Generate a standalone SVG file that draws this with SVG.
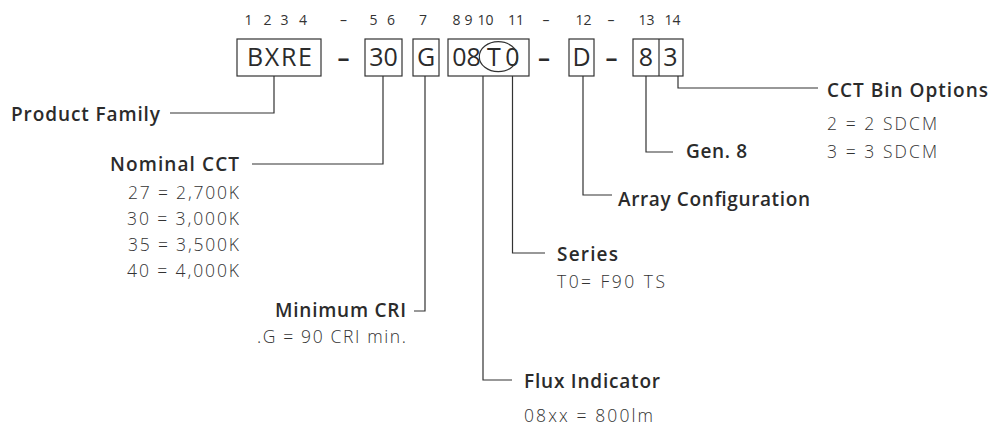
<svg xmlns="http://www.w3.org/2000/svg" width="995" height="426" viewBox="0 0 995 426">
<style>
  .bg{fill:#ffffff}
  .box{fill:none;stroke:#333333;stroke-width:1.2}
  .conn{fill:none;stroke:#333333;stroke-width:1.2}
  .idx{font-family:"Open Sans",Lato,sans-serif;font-size:14px;fill:#333333;text-anchor:middle}
  .code{font-family:"Open Sans",Lato,sans-serif;font-size:25px;font-weight:500;fill:#2b2b2b;text-anchor:middle}
  .dash{font-family:"Open Sans",Lato,sans-serif;font-size:24px;font-weight:bold;fill:#2b2b2b;text-anchor:middle}
  .lbl{font-family:"Open Sans",Lato,sans-serif;font-size:19px;font-weight:600;fill:#2b2b2b}
  .val{font-family:"Open Sans",Lato,sans-serif;font-size:17.5px;font-weight:300;fill:#333333}
  .end{text-anchor:end}
</style>
<rect class="bg" x="0" y="0" width="995" height="426"/>

<g id="index-row">
  <text class="idx" x="248.5" y="25">1</text>
  <text class="idx" x="267.5" y="25">2</text>
  <text class="idx" x="284.5" y="25">3</text>
  <text class="idx" x="303" y="25">4</text>
  <text class="idx" x="343.5" y="25">–</text>
  <text class="idx" x="373.5" y="25">5</text>
  <text class="idx" x="391" y="25">6</text>
  <text class="idx" x="423" y="25">7</text>
  <text class="idx" x="456.5" y="25">8</text>
  <text class="idx" x="468.5" y="25">9</text>
  <text class="idx" x="485.5" y="25">10</text>
  <text class="idx" x="516" y="25">11</text>
  <text class="idx" x="546" y="25">–</text>
  <text class="idx" x="583.5" y="25">12</text>
  <text class="idx" x="611" y="25">–</text>
  <text class="idx" x="646.5" y="25">13</text>
  <text class="idx" x="672.5" y="25">14</text>
</g>

<g id="code-row">
  <g id="box-bxre">
    <rect class="box" x="237" y="39" width="84" height="37"/>
    <text class="code" x="279.5" y="66" textLength="65">BXRE</text>
  </g>
  <text class="dash" x="343.5" y="66">–</text>
  <g id="box-30">
    <rect class="box" x="365" y="39" width="37" height="37"/>
    <text class="code" x="383.5" y="66">30</text>
  </g>
  <g id="box-g">
    <rect class="box" x="413" y="39" width="26" height="37"/>
    <text class="code" x="426" y="66">G</text>
  </g>
  <g id="box-08t0">
    <rect class="box" x="448" y="39" width="81" height="37"/>
    <text class="code" x="466.5" y="66">08</text>
    <text class="code" x="494" y="66">T</text>
    <text class="code" x="512.5" y="66">0</text>
    <ellipse class="box" cx="498.3" cy="56.7" rx="19" ry="15"/>
  </g>
  <text class="dash" x="544" y="66">–</text>
  <g id="box-d">
    <rect class="box" x="569" y="39" width="25" height="37"/>
    <text class="code" x="581.5" y="66">D</text>
  </g>
  <text class="dash" x="611.5" y="66">–</text>
  <g id="box-83">
    <rect class="box" x="633" y="39" width="50" height="37"/>
    <line class="box" x1="659" y1="39" x2="659" y2="76"/>
    <text class="code" x="646" y="66">8</text>
    <text class="code" x="670.5" y="66">3</text>
  </g>
</g>

<g id="connectors">
  <path class="conn" d="M274 76 V113 H170"/>
  <path class="conn" d="M383 76 V164 H252"/>
  <path class="conn" d="M425 76 V311 H414"/>
  <path class="conn" d="M483 76 V380 H512"/>
  <path class="conn" d="M512.5 76 V253 H545"/>
  <path class="conn" d="M583 76 V195 H612"/>
  <path class="conn" d="M646 76 V152 H673"/>
  <path class="conn" d="M678 76 V88 H818"/>
</g>

<g id="product-family">
  <text class="lbl" x="11" y="121" textLength="149">Product Family</text>
</g>

<g id="nominal-cct">
  <text class="lbl end" x="239" y="171" textLength="129">Nominal CCT</text>
  <text class="val end" x="239" y="199" textLength="111">27 = 2,700K</text>
  <text class="val end" x="239" y="225" textLength="112">30 = 3,000K</text>
  <text class="val end" x="239" y="251" textLength="111">35 = 3,500K</text>
  <text class="val end" x="239" y="277" textLength="112">40 = 4,000K</text>
</g>

<g id="minimum-cri">
  <text class="lbl end" x="406" y="317" textLength="131">Minimum CRI</text>
  <text class="val end" x="406" y="343" textLength="149">.G = 90 CRI min.</text>
</g>

<g id="flux-indicator">
  <text class="lbl" x="524" y="388" textLength="136">Flux Indicator</text>
  <text class="val" x="524" y="422" textLength="129">08xx = 800lm</text>
</g>

<g id="series">
  <text class="lbl" x="557" y="261" textLength="61">Series</text>
  <text class="val" x="557" y="288" textLength="108">T0= F90 TS</text>
</g>

<g id="array-configuration">
  <text class="lbl" x="618" y="206" textLength="192">Array Configuration</text>
</g>

<g id="gen-8">
  <text class="lbl" x="686" y="158" textLength="61">Gen. 8</text>
</g>

<g id="cct-bin-options">
  <text class="lbl" x="827" y="97" textLength="161">CCT Bin Options</text>
  <text class="val" x="827" y="130" textLength="110">2 = 2 SDCM</text>
  <text class="val" x="827" y="158" textLength="110">3 = 3 SDCM</text>
</g>
</svg>
